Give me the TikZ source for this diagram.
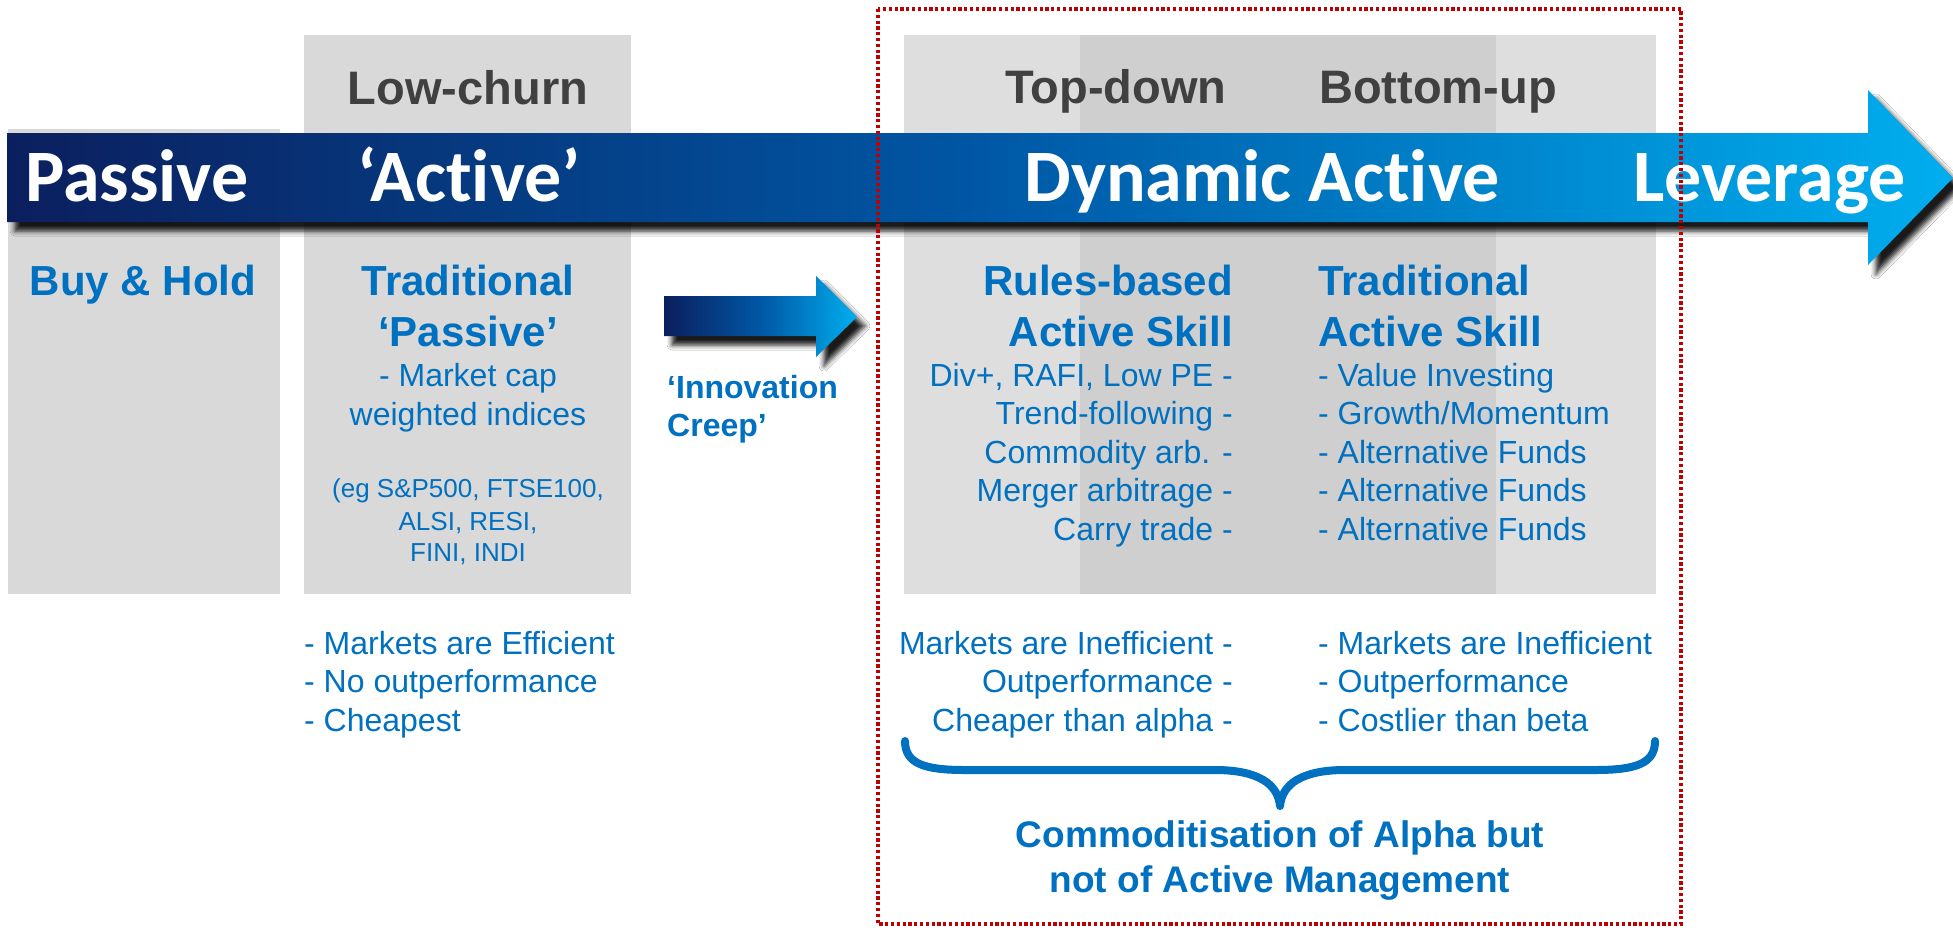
\documentclass[tikz,border=0pt]{standalone}
\usepackage{fontspec}
\setmainfont{Liberation Sans}
\newfontfamily\bandfont[Ligatures=NoCommon, RawFeature={-liga;-clig;-calt;-dlig}]{Carlito}
\usetikzlibrary{shadows.blur}

\definecolor{txtblue}{HTML}{0070C0}
\definecolor{headgray}{HTML}{404040}
\definecolor{panel}{HTML}{D9D9D9}
\definecolor{panelouter}{HTML}{DEDEDE}
\definecolor{panelinner}{HTML}{CFCFCF}
\definecolor{navy}{HTML}{0B1F5E}
\definecolor{midblue}{HTML}{0057A5}
\definecolor{lightblue}{HTML}{00AEEF}
\definecolor{dotred}{HTML}{C00000}

\tikzset{
  colhead/.style={font=\fontsize{47}{56}\selectfont\bfseries, text=headgray, inner sep=0, anchor=base},
  bandlabel/.style={font=\bandfont\fontsize{74}{88}\selectfont\bfseries, text=white, inner sep=0, anchor=base},
  coltitle/.style={font=\fontsize{42}{51}\selectfont\bfseries, text=txtblue, inner sep=0, anchor=base},
  item/.style={font=\fontsize{32}{38}\selectfont, text=txtblue, inner sep=0, anchor=base},
  smallitem/.style={font=\fontsize{26}{32}\selectfont, text=txtblue, inner sep=0, anchor=base},
  creep/.style={font=\fontsize{32}{38}\selectfont\bfseries, text=txtblue, inner sep=0, anchor=base west},
  summary/.style={font=\fontsize{37}{45}\selectfont\bfseries, text=txtblue, inner sep=0, anchor=base},
  dropshadow/.style={blur shadow={shadow xshift=8pt, shadow yshift=-9pt, shadow blur radius=5pt, shadow opacity=90}},
}

\begin{document}
\begin{tikzpicture}[x=1pt, y=-1pt]
\useasboundingbox[fill=white] (0,0) rectangle (1953,927);

% column panels
\fill[panel] (8,129) rectangle (280,594);
\fill[panel] (304,35) rectangle (631,594);
\fill[panelouter] (904,35) rectangle (1656,594);
\fill[panelinner] (1080,35) rectangle (1496,594);

% column headings
\node[colhead] (lowchurn) at (468,104) {Low-churn};
\node[colhead] (topdown) at (1116,103) {Top-down};
\node[colhead] (bottomup) at (1438,103) {Bottom-up};

% main spectrum arrow
\path[dropshadow, left color=navy, right color=lightblue, middle color=midblue]
  (7,133) -- (1868,133) -- (1868,90) -- (1953,178) -- (1868,265) -- (1868,222) -- (7,222) -- cycle;
\node[bandlabel, anchor=base west] (passive) at (25,201) {Passive};
\node[bandlabel] (active) at (469,201) {‘Active’};
\node[bandlabel] (dynamic) at (1262,201) {Dynamic Active};
\node[bandlabel, anchor=base west] (leverage) at (1633,201) {Leverage};

% passive column
\node[coltitle] (buyhold) at (143,295) {Buy \& Hold};

% low-churn column
\node[coltitle] (trad1) at (468,295) {Traditional};
\node[coltitle] (trad2) at (468,346) {‘Passive’};
\node[item] (mcap1) at (468,386) {- Market cap};
\node[item] (mcap2) at (468,425) {weighted indices};
\node[smallitem] (eg1) at (468,497) {(eg S\&P500, FTSE100,};
\node[smallitem] (eg2) at (468,530) {ALSI, RESI,};
\node[smallitem] (eg3) at (468,561) {FINI, INDI};
\foreach \t [count=\i] in {{- Markets are Efficient},{- No outperformance},{- Cheapest}}
  \node[item, anchor=base west] (eff\i) at (304,{654+38.5*(\i-1)}) {\t};

% innovation creep arrow
\path[dropshadow, left color=navy, right color=lightblue, middle color=midblue]
  (664,296) -- (816,296) -- (816,276) -- (857,317) -- (816,357) -- (816,336) -- (664,336) -- cycle;
\node[creep] (creep1) at (667,398) {‘Innovation};
\node[creep] (creep2) at (667,436) {Creep’};

% dynamic active: rules-based side
\node[coltitle, anchor=base east] (rules1) at (1233,295) {Rules-based};
\node[coltitle, anchor=base east] (rules2) at (1233,346) {Active Skill};
\foreach \t [count=\i] in {{Div+, RAFI, Low PE -},{Trend-following -},{Commodity arb. -},{Merger arbitrage -},{Carry trade -}}
  \node[item, anchor=base east] (rb\i) at (1233,{386+38.6*(\i-1)}) {\t};
\foreach \t [count=\i] in {{Markets are Inefficient -},{Outperformance -},{Cheaper than alpha -}}
  \node[item, anchor=base east] (rbv\i) at (1233,{654+38.5*(\i-1)}) {\t};

% dynamic active: traditional side
\node[coltitle, anchor=base west] (tas1) at (1318,295) {Traditional};
\node[coltitle, anchor=base west] (tas2) at (1318,346) {Active Skill};
\foreach \t [count=\i] in {{- Value Investing},{- Growth/Momentum},{- Alternative Funds},{- Alternative Funds},{- Alternative Funds}}
  \node[item, anchor=base west] (ta\i) at (1318,{386+38.6*(\i-1)}) {\t};
\foreach \t [count=\i] in {{- Markets are Inefficient},{- Outperformance},{- Costlier than beta}}
  \node[item, anchor=base west] (tav\i) at (1318,{654+38.5*(\i-1)}) {\t};

% brace gathering both views
\coordinate (braceL) at (905,741);
\coordinate (braceM) at (1280,806);
\coordinate (braceR) at (1655,741);
\draw[txtblue, line width=8pt, line cap=round, line join=round]
  (braceL) .. controls (905,764) and (925,770) .. (965,770) -- (1215,770)
  .. controls (1258,770) and (1278,784) .. (braceM)
  .. controls (1282,784) and (1302,770) .. (1345,770) -- (1595,770)
  .. controls (1635,770) and (1655,764) .. (braceR);
\node[summary] (summ1) at (1280,847) {Commoditisation of Alpha but};
\node[summary] (summ2) at (1280,892) {not of Active Management};

% dotted frame around dynamic active
\draw[dotred, line width=3.2pt, dash pattern=on 3.2pt off 2.6pt] (878,9) rectangle (1681,924);
\end{tikzpicture}
\end{document}
